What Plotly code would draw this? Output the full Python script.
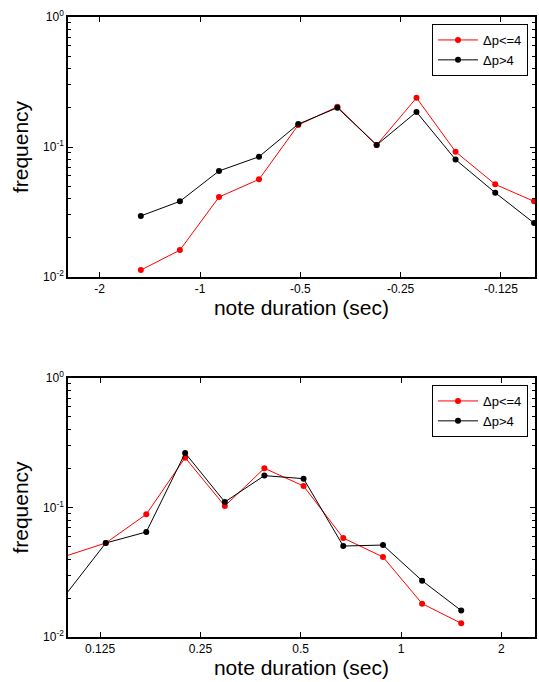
import math
import plotly.graph_objects as go

# ---- data ----
# top panel: negative durations (Δp<=4 red, Δp>4 black)
top_dur = [-1.505, -1.149, -0.877, -0.665, -0.507, -0.387, -0.295, -0.224, -0.171, -0.130, -0.0994]
top_red = [0.0113, 0.0161, 0.0412, 0.0564, 0.1477, 0.204, 0.1036, 0.239, 0.092, 0.0516, 0.0382]
top_black = [0.0295, 0.0382, 0.0654, 0.0842, 0.150, 0.2006, 0.1036, 0.186, 0.080, 0.0445, 0.026]

# bottom panel: positive durations
bot_dur = [0.100, 0.130, 0.172, 0.225, 0.296, 0.389, 0.510, 0.671, 0.883, 1.157, 1.516]
bot_red = [0.0427, 0.0532, 0.0886, 0.2427, 0.1027, 0.2009, 0.1466, 0.0581, 0.0415, 0.0181, 0.01276]
bot_black = [0.0223, 0.0532, 0.0647, 0.2635, 0.1103, 0.1763, 0.167, 0.0504, 0.0513, 0.0272, 0.016]

top_ticks = [-2, -1, -0.5, -0.25, -0.125]
top_ticktext = ["-2", "-1", "-0.5", "-0.25", "-0.125"]
bot_ticks = [0.125, 0.25, 0.5, 1, 2]
bot_ticktext = ["0.125", "0.25", "0.5", "1", "2"]

y_ticks = [0.01, 0.1, 1]
y_ticktext = ["10<sup>-2</sup>", "10<sup>-1</sup>", "10<sup>0</sup>"]
y_minor = [m * 10 ** e for e in (-2, -1) for m in range(2, 10)]

names = ["\u0394p<=4", "\u0394p>4"]
colors = ["#ff0000", "#000000"]


def top_pos(v):
    return -math.log2(abs(v))


def bot_pos(v):
    return math.log2(v)


fig = go.Figure()

for vals, name, col in zip([top_red, top_black], names, colors):
    fig.add_trace(go.Scatter(
        x=[top_pos(d) for d in top_dur], y=vals, name=name,
        mode="lines+markers", line=dict(color=col, width=1),
        marker=dict(color=col, size=6), xaxis="x", yaxis="y", legend="legend",
        cliponaxis=False))

for vals, name, col in zip([bot_red, bot_black], names, colors):
    fig.add_trace(go.Scatter(
        x=[bot_pos(d) for d in bot_dur], y=vals, name=name,
        mode="lines+markers", line=dict(color=col, width=1),
        marker=dict(color=col, size=6), xaxis="x2", yaxis="y2", legend="legend2",
        cliponaxis=False))

W, H = 539, 682
font = dict(family="Liberation Sans, Arial, sans-serif", color="black")

axis_common = dict(showline=True, linecolor="black", linewidth=1.5, mirror="ticks",
                   ticks="inside", ticklen=5, tickcolor="black", tickwidth=1,
                   showgrid=False, zeroline=False, automargin=False,
                   tickfont=dict(size=12, **font), title_font=dict(size=21, **font))

yaxis_common = dict(axis_common, type="log", range=[-2, 0], tickvals=y_ticks, ticktext=y_ticktext,
                    minor=dict(ticks="inside", ticklen=3, tickcolor="black", tickwidth=1,
                               tickmode="array", tickvals=y_minor, showgrid=False))

legend_common = dict(xanchor="right", yanchor="top", bordercolor="black", borderwidth=1,
                     bgcolor="white", font=dict(size=13, **font), tracegroupgap=0,
                     itemwidth=40)

fig.update_layout(
    width=W, height=H,
    margin=dict(l=0, r=0, t=0, b=0),
    paper_bgcolor="white", plot_bgcolor="white",
    font=font,
    xaxis=dict(axis_common, domain=[68 / W, 535 / W], anchor="y",
               range=[-1.316, 3.34],
               tickvals=[top_pos(v) for v in top_ticks], ticktext=top_ticktext,
               title=dict(text="note duration (sec)", standoff=0)),
    yaxis=dict(yaxis_common, domain=[1 - 277 / H, 1 - 17 / H], anchor="x",
               title=dict(text="frequency", standoff=9)),
    xaxis2=dict(axis_common, domain=[68 / W, 535 / W], anchor="y2",
                range=[-3.32, 1.336],
                tickvals=[bot_pos(v) for v in bot_ticks], ticktext=bot_ticktext,
                title=dict(text="note duration (sec)", standoff=0)),
    yaxis2=dict(yaxis_common, domain=[1 - 637 / H, 1 - 378 / H], anchor="x2",
                title=dict(text="frequency", standoff=9)),
    legend=dict(legend_common, x=528 / W, y=1 - 24 / H),
    legend2=dict(legend_common, x=528 / W, y=1 - 385 / H),
)

fig.write_html("out.html", config={"displayModeBar": False},
               post_script="document.body.style.margin='0px';document.body.style.overflow='hidden';")
